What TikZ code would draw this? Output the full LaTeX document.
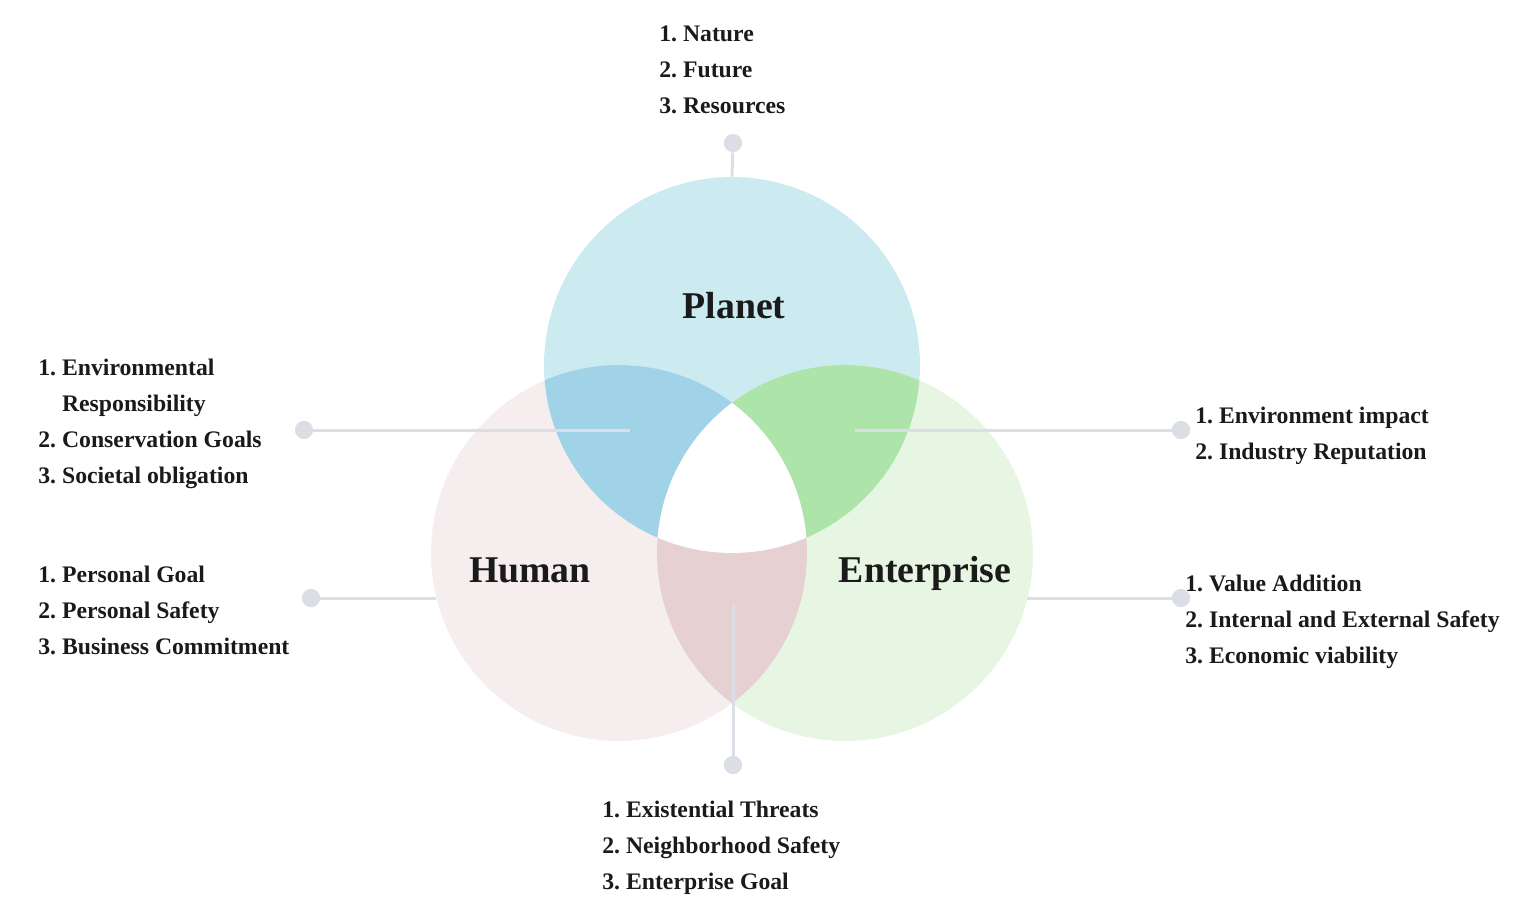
\documentclass[tikz,border=0pt]{standalone}
\usepackage{fontspec}
\setmainfont{Liberation Serif}
\usepackage{xcolor}
\usetikzlibrary{positioning}
\definecolor{PlanetFill}{RGB}{204,235,240}
\definecolor{HumanFill}{RGB}{246,238,238}
\definecolor{EntFill}{RGB}{230,246,227}
\definecolor{PlanetHuman}{RGB}{160,210,232}
\definecolor{PlanetEnt}{RGB}{173,228,170}
\definecolor{HumanEnt}{RGB}{230,208,210}
\definecolor{LinkGray}{RGB}{220,222,229}
\definecolor{TextDark}{RGB}{26,26,26}
\tikzset{
  venn/.style={circle, minimum size=7.52cm, inner sep=0pt, draw=none},
  vtitle/.style={font=\fontsize{21.5}{26}\selectfont\bfseries, text=TextDark},
  listtext/.style={font=\fontsize{13.5}{20.5}\selectfont\bfseries\frenchspacing,
    text=TextDark, align=left, inner sep=0pt, anchor=west},
  link/.style={draw=LinkGray, line width=1.7pt},
  pin/.style={circle, fill=LinkGray, minimum size=0.36cm, inner sep=0pt}
}
\newcommand{\vennpath}[1]{(#1.center) circle[radius=3.76cm]}

\begin{document}
\begin{tikzpicture}[x=0.02cm, y=-0.02cm]
  \useasboundingbox (0,0) rectangle (1528,900);

  % Circles
  \node[venn, fill=PlanetFill] (planet) at (732,365) {};
  \node[venn, fill=HumanFill]  (human)  at (619,553) {};
  \node[venn, fill=EntFill]    (ent)    at (845,553) {};

  % Overlaps
  \begin{scope}
    \clip \vennpath{planet};
    \fill[PlanetHuman] \vennpath{human};
    \fill[PlanetEnt] \vennpath{ent};
  \end{scope}
  \begin{scope}
    \clip \vennpath{human};
    \fill[HumanEnt] \vennpath{ent};
  \end{scope}
  \begin{scope}
    \clip \vennpath{planet};
    \clip \vennpath{human};
    \fill[white] \vennpath{ent};
  \end{scope}

  % Titles
  \node[vtitle] (tplanet) at (734,306) {Planet};
  \node[vtitle] (thuman)  at (530,570) {Human};
  \node[vtitle] (tent)    at (925,573) {Enterprise};

  % Pins and free ends
  \node[pin] (pinT)  at (733,143) {};
  \node[pin] (pinLT) at (304,430) {};
  \node[pin] (pinRT) at (1181,430) {};
  \node[pin] (pinLB) at (311,598) {};
  \node[pin] (pinRB) at (1181,598) {};
  \node[pin] (pinB)  at (733,765) {};
  \coordinate (endLT) at (630,430);
  \coordinate (endRT) at (855,430);
  \coordinate (endLB) at (436,598);
  \coordinate (endRB) at (1027,598);
  \coordinate (endB)  at (733,605);

  \draw[link] (pinT) -- (planet.north);
  \draw[link] (pinLT) -- (endLT);
  \draw[link] (endRT) -- (pinRT);
  \draw[link] (pinLB) -- (endLB);
  \draw[link] (endRB) -- (pinRB);
  \draw[link] (endB) -- (pinB);
  \foreach \p in {pinT,pinLT,pinRT,pinLB,pinRB,pinB}
    \fill[LinkGray] (\p) circle[radius=0.18cm];

  % Lists
  \node[listtext] (lT) at (659,70)
    {1. Nature\\2. Future\\3. Resources};
  \node[listtext] (lLT) at (38,424)
    {1. Environmental\\\phantom{1. }Responsibility\\2. Conservation Goals\\3. Societal obligation};
  \node[listtext] (lLB) at (38,610)
    {1. Personal Goal\\2. Personal Safety\\3. Business Commitment};
  \node[listtext] (lRT) at (1195,436)
    {1. Environment impact\\2. Industry Reputation};
  \node[listtext] (lRB) at (1185,622)
    {1. Value Addition\\2. Internal and External Safety\\3. Economic viability};
  \node[listtext] (lB) at (602,848)
    {1. Existential Threats\\2. Neighborhood Safety\\3. Enterprise Goal};

\end{tikzpicture}
\end{document}
